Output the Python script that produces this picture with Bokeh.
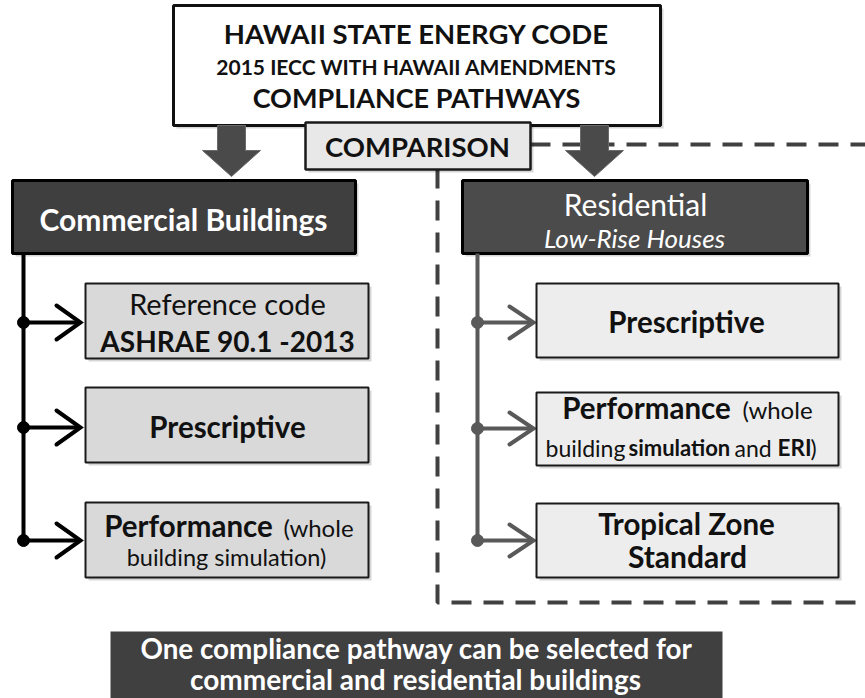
from bokeh.plotting import figure
from bokeh.models import Range1d
from bokeh.core.properties import value
from bokeh.embed import file_html
from bokeh.resources import INLINE

FONT = "Lato"

# ---- content ----
title_lines = ["HAWAII STATE ENERGY CODE", "2015 IECC WITH HAWAII AMENDMENTS", "COMPLIANCE PATHWAYS"]
comparison_label = "COMPARISON"
commercial_header = "Commercial Buildings"
residential_header = ["Residential", "Low-Rise Houses"]
commercial_ref = ["Reference code", "ASHRAE 90.1 -2013"]
prescriptive_label = "Prescriptive"
performance_label = ["Performance", "(whole"]
commercial_perf_line2 = "building simulation)"
residential_perf_line2 = ["building", "simulation", "and", "ERI", ")"]
tropical_label = ["Tropical Zone", "Standard"]
footer_lines = ["One compliance pathway can be selected for", "commercial and residential buildings"]

# branch rows (pixel rows of the diagram)
commercial_rows = [322, 427, 540]
residential_rows = [322, 428, 540]

p = figure(width=865, height=698, x_range=Range1d(0, 865), y_range=Range1d(698, 0),
           output_backend="svg", toolbar_location=None, min_border=0,
           background_fill_color="white", border_fill_color="white")
p.axis.visible = False
p.grid.visible = False
p.outline_line_color = None


def box(x0, y0, x1, y1, fill, line="#1a1a1a", lw=2.0, shadow=True):
    if shadow:
        p.quad(left=[x0 + 3], right=[x1 + 3], top=[y0 + 3], bottom=[y1 + 3],
               fill_color="#000000", fill_alpha=0.16, line_color=None)
    p.quad(left=[x0], right=[x1], top=[y0], bottom=[y1], fill_color=fill,
           line_color=line, line_width=lw)


def txt(x, y, s, size, style="bold", color="#111111", align="center"):
    p.text(x=[x], y=[y], text=[s], text_font=value(FONT), text_font_size=f"{size}px",
           text_font_style=style, text_color=color, text_align=align, text_baseline="middle")


# ---- dashed residential frame ----
dash_col = "#404040"
p.line(x=[530, 870], y=[144, 144], line_color=dash_col, line_width=4, line_dash="20 12")
p.line(x=[437, 437, 870], y=[168, 602, 602], line_color=dash_col, line_width=4, line_dash="20 12")

# ---- top box ----
box(173, 5, 660, 125, "white", line="#111111", lw=3)
txt(416, 33, title_lines[0], 27.5)
txt(416, 66, title_lines[1], 21)
txt(416, 97, title_lines[2], 27)

# ---- block arrows ----
arrow_fill = "#4a4a4a"
for cx in [231, 594]:
    xs = [cx - 14, cx + 14, cx + 14, cx + 29, cx, cx - 29, cx - 14]
    ys = [125, 125, 150, 150, 176, 150, 150]
    p.patch(xs, ys, fill_color=arrow_fill, line_color="#6a6a6a", line_width=1)

# ---- comparison box ----
box(305, 122, 530, 169, "#e8e8e8", line="#1a1a1a", lw=2.5)
txt(417, 146, comparison_label, 27.5)

# ---- headers ----
box(12, 180, 355, 253, "#3f3f3f", line="#000000", lw=3)
txt(183, 218, commercial_header, 30, color="white")
box(462, 180, 807, 253, "#4b4b4b", line="#000000", lw=3)
txt(635, 203, residential_header[0], 30, style="normal", color="white")
txt(634, 237, residential_header[1], 26, style="italic", color="white")

# ---- commercial tree ----
c_col = "#000000"
p.line(x=[23, 23], y=[253, commercial_rows[-1]], line_color=c_col, line_width=4)
for y in commercial_rows:
    p.line(x=[23, 78], y=[y, y], line_color=c_col, line_width=4)
    p.line(x=[56, 80, 56], y=[y - 17, y, y + 17], line_color=c_col, line_width=4,
           line_cap="round", line_join="miter")
p.scatter(x=[23] * 3, y=commercial_rows, size=12, fill_color=c_col, line_color=c_col)

left_fill = "#d9d9d9"
box(85, 283, 368, 358, left_fill)
txt(227, 303, commercial_ref[0], 29, style="normal")
txt(227, 340, commercial_ref[1], 28)
box(85, 387, 368, 462, left_fill)
txt(227, 426, prescriptive_label, 29.5)
box(85, 502, 368, 577, left_fill)
txt(188, 525, performance_label[0], 29.5)
txt(318, 527, performance_label[1], 24, style="normal")
txt(226, 556, commercial_perf_line2, 23.5, style="normal")

# ---- residential tree ----
r_col = "#595959"
p.line(x=[477, 477], y=[253, residential_rows[-1]], line_color=r_col, line_width=4)
for y in residential_rows:
    p.line(x=[477, 531], y=[y, y], line_color=r_col, line_width=4)
    p.line(x=[509, 533, 509], y=[y - 16, y, y + 16], line_color=r_col, line_width=4,
           line_cap="round", line_join="miter")
p.scatter(x=[477] * 3, y=residential_rows, size=12, fill_color=r_col, line_color=r_col)

right_fill = "#ededed"
box(536, 283, 838, 357, right_fill)
txt(686, 321, prescriptive_label, 29.5)
box(536, 392, 838, 465, right_fill)
txt(646, 407, performance_label[0], 29.5)
txt(777, 409, performance_label[1], 24, style="normal")
txt(545, 447, residential_perf_line2[0], 23, style="normal", align="left")
txt(628, 447, residential_perf_line2[1], 22, align="left")
txt(734, 447, residential_perf_line2[2], 23, style="normal", align="left")
txt(777, 447, residential_perf_line2[3], 22.5, align="left")
txt(810, 447, residential_perf_line2[4], 23, style="normal", align="left")
box(536, 503, 838, 577, right_fill)
txt(686, 523, tropical_label[0], 29.5)
txt(687, 555, tropical_label[1], 30)

# ---- footer banner ----
p.quad(left=[110], right=[722], top=[631], bottom=[700], fill_color="#404040", line_color=None)
txt(416, 648, footer_lines[0], 27.8, color="white")
txt(415, 678, footer_lines[1], 28, color="white")

open("out.html", "w").write(file_html(p, INLINE))
